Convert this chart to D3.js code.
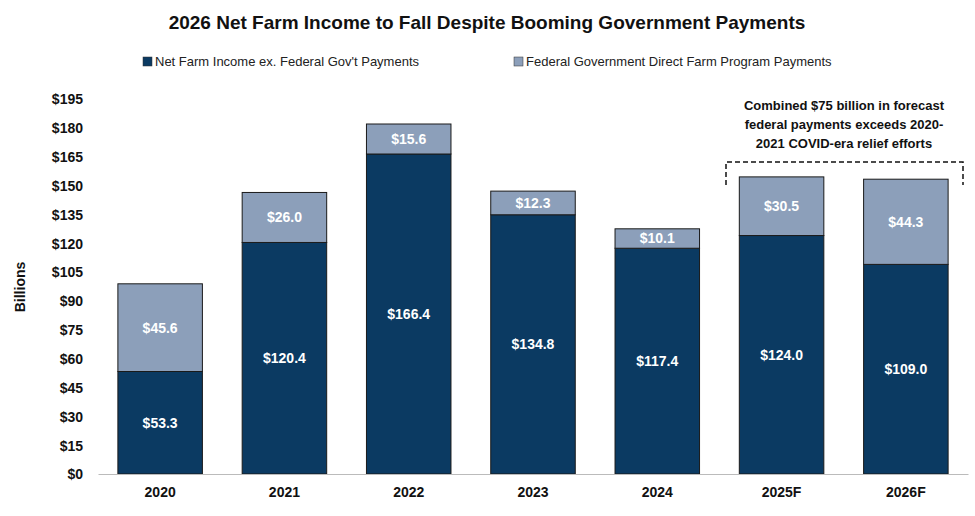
<!DOCTYPE html>
<html><head><meta charset="utf-8">
<script src="https://cdn.jsdelivr.net/npm/d3@7"></script>
<style>body{margin:0;background:#fff}text{font-family:"Liberation Sans",Arial,sans-serif}</style>
</head><body><svg id="c" width="975" height="516"></svg>
<script>
const years = ["2020","2021","2022","2023","2024","2025F","2026F"];
const netIncome = [53.3,120.4,166.4,134.8,117.4,124.0,109.0];
const govPayments = [45.6,26.0,15.6,12.3,10.1,30.5,44.3];
const yTicks = [0,15,30,45,60,75,90,105,120,135,150,165,180,195];
const seriesNames = ["Net Farm Income ex. Federal Gov't Payments","Federal Government Direct Farm Program Payments"];
const colors = ["#0b3a62","#8c9fba"];

const svg = d3.select("#c");
const x = d3.scaleBand().domain(years).range([98,968]).paddingInner(0.32).paddingOuter(0.16);
const y = d3.scaleLinear().domain([0,195]).range([474,99]);

svg.append("text").attr("x",487).attr("y",29).attr("text-anchor","middle")
 .attr("font-size",19).attr("font-weight","bold").attr("fill","#111")
 .text("2026 Net Farm Income to Fall Despite Booming Government Payments");

// legend
const lg = [{x:143,t:seriesNames[0],c:colors[0]},{x:514,t:seriesNames[1],c:colors[1]}];
lg.forEach(d=>{
 svg.append("rect").attr("x",d.x).attr("y",57).attr("width",9).attr("height",9).attr("fill",d.c).attr("stroke","#333").attr("stroke-width",0.5);
 svg.append("text").attr("x",d.x+12).attr("y",66).attr("font-size",13).attr("fill","#222").text(d.t);
});

// y axis
const ya = svg.append("g").attr("transform","translate(86,0)")
 .call(d3.axisLeft(y).tickValues(yTicks).tickSize(0).tickFormat(d=>"$"+d));
ya.select(".domain").remove();
ya.selectAll("text").attr("font-size",14).attr("font-weight","bold").attr("fill","#111").attr("dy","0.35em");
svg.append("text").attr("transform","translate(25,287) rotate(-90)").attr("text-anchor","middle")
 .attr("font-size",14).attr("font-weight","bold").attr("fill","#111").text("Billions");

// bars
years.forEach((yr,i)=>{
 const a=netIncome[i], b=govPayments[i];
 svg.append("rect").attr("x",x(yr)).attr("width",x.bandwidth()).attr("y",y(a)).attr("height",y(0)-y(a))
  .attr("fill",colors[0]).attr("stroke","#1a1a1a").attr("stroke-width",1);
 svg.append("rect").attr("x",x(yr)).attr("width",x.bandwidth()).attr("y",y(a+b)).attr("height",y(a)-y(a+b))
  .attr("fill",colors[1]).attr("stroke","#1a1a1a").attr("stroke-width",1);
 const cx=x(yr)+x.bandwidth()/2;
 svg.append("text").attr("x",cx).attr("y",(y(0)+y(a))/2).attr("dy","0.35em").attr("text-anchor","middle")
  .attr("font-size",14).attr("font-weight","bold").attr("fill","#fff").text("$"+a.toFixed(1));
 svg.append("text").attr("x",cx).attr("y",(y(a)+y(a+b))/2).attr("dy","0.35em").attr("text-anchor","middle")
  .attr("font-size",14).attr("font-weight","bold").attr("fill","#fff").text("$"+b.toFixed(1));
});

// x axis
const xa = svg.append("g").attr("transform","translate(0,474)").call(d3.axisBottom(x).tickSize(0));
xa.select(".domain").attr("stroke","#bbb");
xa.selectAll("text").attr("font-size",14).attr("font-weight","bold").attr("fill","#111").attr("dy","1.45em");

// annotation
svg.append("path").attr("d","M726,185 L726,162 L963,162 L963,185").attr("fill","none")
 .attr("stroke","#111").attr("stroke-width",1.5).attr("stroke-dasharray","5,3");
["Combined $75 billion in forecast","federal payments exceeds 2020-","2021 COVID-era relief efforts"].forEach((t,i)=>{
 svg.append("text").attr("x",844).attr("y",110+i*19).attr("text-anchor","middle")
  .attr("font-size",13).attr("font-weight","bold").attr("fill","#111").text(t);
});
</script></body></html>
